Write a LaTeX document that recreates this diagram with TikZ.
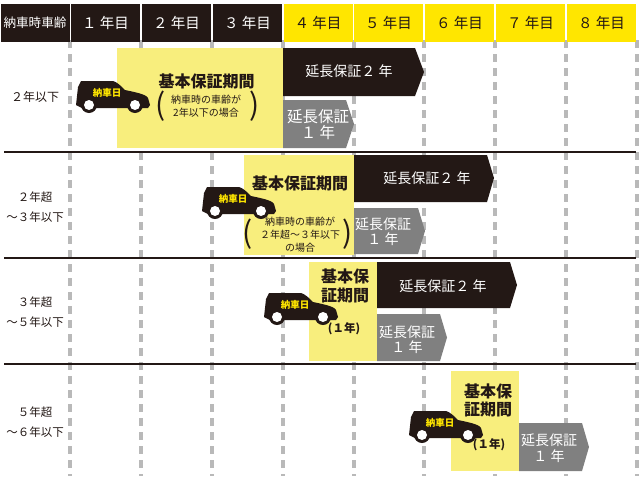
\documentclass[tikz,border=0pt]{standalone}
\usepackage{fontspec}
\setmainfont{Noto Sans CJK JP}
\definecolor{K}{RGB}{35, 24, 21}
\definecolor{Y}{RGB}{255, 230, 0}
\definecolor{P}{RGB}{248, 238, 125}
\definecolor{S}{RGB}{128, 128, 128}
\definecolor{D}{RGB}{185, 185, 185}
\tikzset{
	headcell/.style={fill=K, text=white, minimum width=69pt, minimum height=38pt, inner sep=0pt, font=\fontsize{14.5}{14.5}\selectfont},
	headyel/.style={headcell, fill=Y, text=K},
	rowlabel/.style={text=K, align=center, inner sep=0pt, font=\fontsize{11.5}{20}\selectfont},
	basetext/.style={text=K, align=center, inner sep=0pt, font=\fontsize{16}{18.5}\selectfont\bfseries},
	notetext/.style={text=K, align=center, inner sep=0pt, font=\fontsize{10}{12.7}\selectfont},
	paren/.style={text=K, inner sep=0pt, font=\fontsize{30}{30}\selectfont},
	yeartext/.style={text=K, inner sep=0pt, font=\fontsize{11.5}{12}\selectfont\bfseries},
	darktext/.style={text=white, inner sep=0pt, font=\fontsize{14}{14}\selectfont},
	greytext/.style={text=white, align=center, inner sep=0pt, font=\fontsize{14}{15.5}\selectfont},
	cartext/.style={text=Y, inner sep=0pt, font=\fontsize{9.5}{10}\selectfont\bfseries},
	car/.pic={
		\fill[K] (5,0) -- (37,0) .. controls (41,1) and (45,5) .. (49,9) .. controls (58,11) and (70,13) .. (72,17) -- (74,24) -- (72,27) -- (6,27) -- (0,24) -- (2,6) -- cycle;
		\fill[K] (13,24) circle (8);
		\fill[K] (59,24) circle (8);
		\fill[white] (13,24) circle (5);
		\fill[white] (59,24) circle (5);
		\draw (31,12) node[cartext] (label) {納車日};
	}
}
\begin{document}
\begin{tikzpicture}[x=1pt, y=-1pt]
	\useasboundingbox (0,0) rectangle (640,480);
	\fill[white] (0,0) rectangle (640,480);
	\foreach \xpos in {70,141,212,283,354,424,495,566,637}
		\draw[D, line width=4pt, dash pattern=on 8pt off 6pt] (\xpos,40) -- (\xpos,476);
	\draw (35,23) node[headcell, font=\fontsize{12.6}{12.6}\selectfont] (headage) {納車時車齢};
	\foreach \xpos/\yr in {105.5/１,176.5/２,247.5/３}
		\draw (\xpos,23) node[headcell] (head\yr) {\yr{} 年目};
	\foreach \xpos/\yr in {318/４,388.5/５,459.5/６,530.5/７,601.5/８}
		\draw (\xpos,23) node[headyel] (head\yr) {\yr{} 年目};
	\foreach \ypos in {152,258,364}
		\draw[K, line width=1.8pt] (4,\ypos) -- (636,\ypos);

	\fill[P] (117,48) rectangle (283,148);
	\fill[K] (283,48) -- (415,48) -- (424,72) -- (415,96) -- (283,96) -- cycle;
	\fill[S] (283,100) -- (346,100) -- (354,124) -- (346,148) -- (283,148) -- cycle;
	\draw (35,97) node[rowlabel, font=\fontsize{12}{12}\selectfont] (rowone) {２年以下};
	\draw (206.5,81) node[basetext] (baseone) {基本保証期間};
	\draw (206,106.5) node[notetext] (noteone) {納車時の車齢が\\2年以下の場合};
	\draw (161,106) node[paren] (parenoneL) {(};
	\draw (255,106) node[paren] (parenoneR) {)};
	\draw (349,71) node[darktext] (darkone) {延長保証２ 年};
	\draw (318,125) node[greytext, font=\fontsize{15.5}{16}\selectfont] (greyone) {延長保証\\１ 年};
	\pic (carone) at (76,81) {car};

	\fill[P] (244,155) rectangle (354,255);
	\fill[K] (354,155) -- (487,155) -- (494,178) -- (487,202) -- (354,202) -- cycle;
	\fill[S] (354,208) -- (418,208) -- (425,231) -- (418,254) -- (354,254) -- cycle;
	\draw (35,207) node[rowlabel] (rowtwo) {２年超\\～３年以下};
	\draw (300,183) node[basetext] (basetwo) {基本保証期間};
	\draw (300,234.5) node[notetext] (notetwo) {納車時の車齢が\\２年超～３年以下\\の場合};
	\draw (248,234) node[paren] (parentwoL) {(};
	\draw (348,234) node[paren] (parentwoR) {)};
	\draw (427,178) node[darktext] (darktwo) {延長保証２ 年};
	\draw (383,231.5) node[greytext] (greytwo) {延長保証\\１ 年};
	\pic (cartwo) at (202,187) {car};

	\fill[P] (309,262) rectangle (377,361);
	\fill[K] (377,262) -- (510,262) -- (517,285) -- (510,308) -- (377,308) -- cycle;
	\fill[S] (377,314) -- (440,314) -- (447,337.5) -- (440,361) -- (377,361) -- cycle;
	\draw (35,312) node[rowlabel] (rowthree) {３年超\\～５年以下};
	\draw (345,286) node[basetext] (basethree) {基本保\\証期間};
	\draw (344,329) node[yeartext] (yearthree) {(１年)};
	\draw (443,286) node[darktext] (darkthree) {延長保証２ 年};
	\draw (407,339.5) node[greytext] (greythree) {延長保証\\１ 年};
	\pic (carthree) at (264,293) {car};

	\fill[P] (451,371) rectangle (519,471);
	\fill[S] (519,423) -- (582,423) -- (589,447) -- (582,471) -- (519,471) -- cycle;
	\draw (35,422) node[rowlabel] (rowfour) {５年超\\～６年以下};
	\draw (488,400.5) node[basetext] (basefour) {基本保\\証期間};
	\draw (489,445) node[yeartext] (yearfour) {(１年)};
	\draw (549,448) node[greytext] (greyfour) {延長保証\\１ 年};
	\pic (carfour) at (409,411) {car};
\end{tikzpicture}
\end{document}
